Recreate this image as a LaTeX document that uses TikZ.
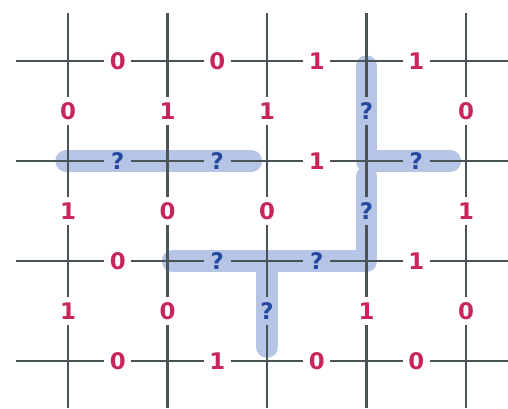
\documentclass[tikz,border=0pt]{standalone}
\usepackage{fontspec}
\setmainfont{DejaVu Sans}
\usetikzlibrary{positioning}
\definecolor{gridGray}{RGB}{74,84,86}
\definecolor{bitRed}{RGB}{200,38,88}
\definecolor{unkBlue}{RGB}{36,72,158}
\definecolor{pathBlue}{RGB}{182,197,229}

\begin{document}
\begin{tikzpicture}[
  x=2cm, y=2cm,
  gridLine/.style={draw=gridGray, line width=1.7pt},
  bitLabel/.style={inner sep=0pt, minimum width=15pt, minimum height=15pt,
                   font=\bfseries\fontsize{13}{13}\selectfont, text=bitRed},
  unkLabel/.style={bitLabel, text=unkBlue},
  lab0/.style={bitLabel},
  lab1/.style={bitLabel},
  lab?/.style={unkLabel},
  hlPath/.style={draw=pathBlue, line width=12.5pt, line cap=round,
                 line join=round}
]
  \useasboundingbox (0,0) rectangle (5.08,4.08);

  % Grid vertices and free line ends
  \foreach \i in {0,...,4}
    \foreach \j in {0,...,3}
      \coordinate (v-\i-\j) at ({0.68+0.995*\i},{3.47-\j});
  \foreach \j in {0,...,3} {
    \coordinate (left-\j) at (0.16,{3.47-\j});
    \coordinate (right-\j) at (5.08,{3.47-\j});
  }
  \foreach \i in {0,...,4} {
    \coordinate (top-\i) at ({0.68+0.995*\i},3.95);
    \coordinate (bot-\i) at ({0.68+0.995*\i},0);
  }

  % Highlighted paths (behind the grid)
  \draw[hlPath] ([xshift=-1pt]v-0-1) -- ([xshift=-9pt]v-2-1);
  \draw[hlPath] ([yshift=-3pt]v-3-0) -- (v-3-1) -- ([xshift=-9pt]v-4-1);
  \draw[hlPath] ([yshift=-9pt]v-3-1) -- (v-3-2) -- ([xshift=3pt]v-1-2);
  \draw[hlPath] ([yshift=-7pt]v-2-2) -- ([yshift=8pt]v-2-3);

  % Horizontal edge labels
  \foreach \row [count=\j from 0] in {{0,0,1,1},{?,?,1,?},{0,?,?,1},{0,1,0,0}}
    \foreach \lab [count=\i from 0] in \row
      \node[lab\lab] (h-\i-\j) at ({0.68+0.995*(\i+0.5)},{3.47-\j}) {\lab};

  % Vertical edge labels
  \foreach \row [count=\j from 0] in {{0,1,1,?,0},{1,0,0,?,1},{1,0,?,1,0}}
    \foreach \lab [count=\i from 0] in \row
      \node[lab\lab] (u-\i-\j) at ({0.68+0.995*\i},{2.97-\j}) {\lab};

  % Horizontal lines, broken by the labels
  \foreach \j in {0,...,3} {
    \draw[gridLine] (left-\j) -- (v-0-\j);
    \draw[gridLine] (v-4-\j) -- (right-\j);
    \foreach \i in {0,...,3} {
      \pgfmathtruncatemacro\n{\i+1}
      \draw[gridLine] (v-\i-\j) -- (h-\i-\j) -- (v-\n-\j);
    }
  }

  % Vertical lines, broken by the labels
  \foreach \i in {0,...,4} {
    \draw[gridLine] (top-\i) -- (v-\i-0);
    \draw[gridLine] (v-\i-3) -- (bot-\i);
    \foreach \j in {0,...,2} {
      \pgfmathtruncatemacro\n{\j+1}
      \draw[gridLine] (v-\i-\j) -- (u-\i-\j) -- (v-\i-\n);
    }
  }
\end{tikzpicture}
\end{document}
